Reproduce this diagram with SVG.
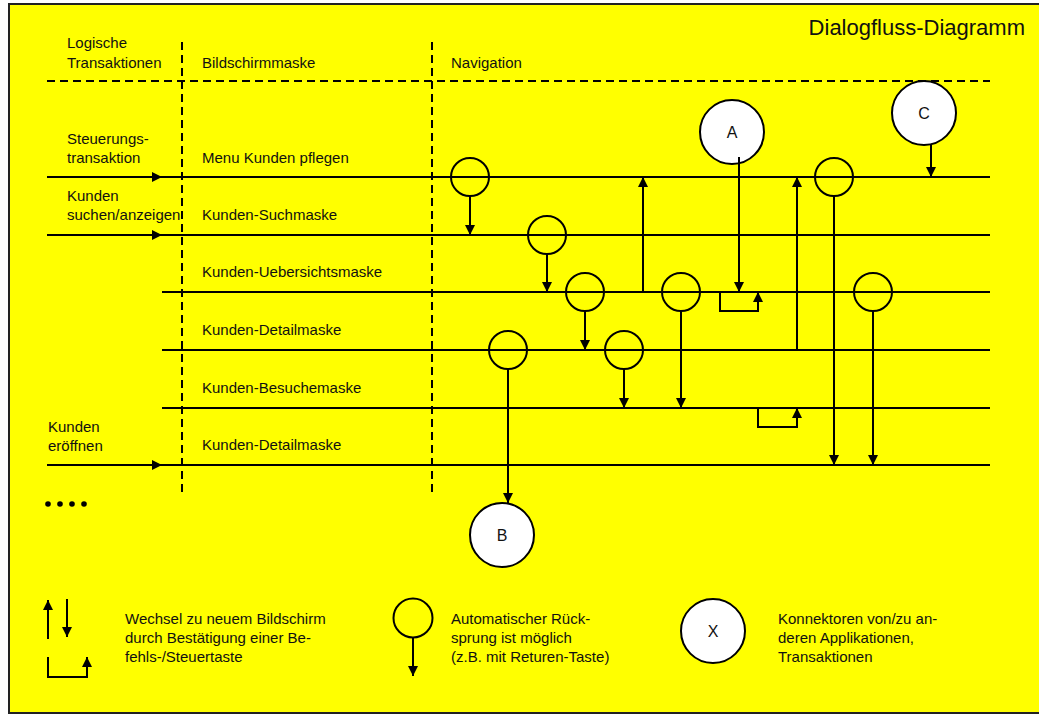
<svg xmlns="http://www.w3.org/2000/svg" width="1039" height="715" viewBox="0 0 1039 715">
<defs>
<marker id="ah" viewBox="0 0 10 10" refX="10" refY="5" markerWidth="10" markerHeight="10" markerUnits="userSpaceOnUse" orient="auto">
<path d="M0,0 L10,5 L0,10 z" fill="#000"/>
</marker>
</defs>
<style>
text{font-family:"Liberation Sans",Arial,sans-serif;font-size:15px;fill:#111}
.t{font-size:22px}
.ln{stroke:#000;stroke-width:2;fill:none}
.ar{stroke:#000;stroke-width:2;fill:none;marker-end:url(#ah)}
.ds{stroke:#000;stroke-width:2;stroke-dasharray:8,5;fill:none}
.sc{stroke:#000;stroke-width:2;fill:none}
.bc{stroke:#000;stroke-width:2;fill:#fff}
.cl{font-size:16px;text-anchor:middle}
</style>
<rect x="0" y="0" width="1039" height="715" fill="#fff"/>
<rect x="9" y="4" width="1040" height="709" fill="#ff0" stroke="#222" stroke-width="2"/>
<text class="t" x="1025" y="35" text-anchor="end">Dialogfluss-Diagramm</text>
<g id="header">
<text x="67" y="48">Logische</text>
<text x="67" y="68">Transaktionen</text>
<text x="202" y="68">Bildschirmmaske</text>
<text x="451" y="68">Navigation</text>
</g>
<g id="grid">
<line class="ds" x1="47" y1="81" x2="990" y2="81"/>
<line class="ds" x1="182" y1="42" x2="182" y2="497"/>
<line class="ds" x1="432" y1="42" x2="432" y2="497"/>
</g>
<g id="labels">
<text x="67" y="144">Steuerungs-</text>
<text x="67" y="163">transaktion</text>
<text x="67" y="201">Kunden</text>
<text x="67" y="220">suchen/anzeigen</text>
<text x="48" y="432">Kunden</text>
<text x="48" y="451">eröffnen</text>
<text x="202" y="163">Menu Kunden pflegen</text>
<text x="202" y="220">Kunden-Suchmaske</text>
<text x="202" y="277">Kunden-Uebersichtsmaske</text>
<text x="202" y="335">Kunden-Detailmaske</text>
<text x="202" y="393">Kunden-Besuchemaske</text>
<text x="202" y="450">Kunden-Detailmaske</text>
<circle cx="48" cy="504" r="2.8" fill="#000"/>
<circle cx="60" cy="504" r="2.8" fill="#000"/>
<circle cx="72" cy="504" r="2.8" fill="#000"/>
<circle cx="84" cy="504" r="2.8" fill="#000"/>
</g>
<g id="connectors">
<line class="ar" x1="47" y1="177" x2="162" y2="177"/>
<line class="ln" x1="162" y1="177" x2="990" y2="177"/>
<line class="ar" x1="47" y1="235" x2="162" y2="235"/>
<line class="ln" x1="162" y1="235" x2="990" y2="235"/>
<line class="ln" x1="162" y1="292" x2="990" y2="292"/>
<line class="ln" x1="162" y1="350" x2="990" y2="350"/>
<line class="ln" x1="162" y1="408" x2="990" y2="408"/>
<line class="ar" x1="47" y1="465" x2="162" y2="465"/>
<line class="ln" x1="162" y1="465" x2="990" y2="465"/>
<line class="ar" x1="470" y1="196" x2="470" y2="235"/>
<line class="ar" x1="547" y1="254" x2="547" y2="292"/>
<line class="ar" x1="585" y1="311" x2="585" y2="350"/>
<line class="ar" x1="681" y1="311" x2="681" y2="408"/>
<line class="ar" x1="624" y1="369" x2="624" y2="408"/>
<line class="ar" x1="508" y1="369" x2="508" y2="503"/>
<line class="ar" x1="834" y1="196" x2="834" y2="465"/>
<line class="ar" x1="873" y1="311" x2="873" y2="465"/>
<line class="ar" x1="643" y1="292" x2="643" y2="177"/>
<line class="ar" x1="797" y1="350" x2="797" y2="177"/>
<line class="ar" x1="739" y1="157" x2="739" y2="292"/>
<line class="ar" x1="931" y1="145" x2="931" y2="177"/>
<polyline class="ar" points="720,292 720,311 758,311 758,292"/>
<polyline class="ar" points="758,408 758,427 797,427 797,408"/>
</g>
<g id="returns">
<circle class="sc" cx="470" cy="177" r="19"/>
<circle class="sc" cx="547" cy="235" r="19"/>
<circle class="sc" cx="585" cy="292" r="19"/>
<circle class="sc" cx="681" cy="292" r="19"/>
<circle class="sc" cx="624" cy="350" r="19"/>
<circle class="sc" cx="508" cy="350" r="19"/>
<circle class="sc" cx="834" cy="177" r="19"/>
<circle class="sc" cx="873" cy="292" r="19"/>
</g>
<g id="nodeA">
<circle class="bc" cx="732" cy="132" r="32"/>
<line class="ln" x1="739" y1="157" x2="739" y2="166"/>
<text class="cl" x="732" y="138">A</text>
</g>
<g id="nodeB">
<circle class="bc" cx="502" cy="535" r="32"/>
<text class="cl" x="502" y="541">B</text>
</g>
<g id="nodeC">
<circle class="bc" cx="924" cy="113" r="32"/>
<text class="cl" x="924" y="119">C</text>
</g>
<g id="legend">
<line class="ar" x1="48" y1="639" x2="48" y2="600"/>
<line class="ar" x1="67" y1="599" x2="67" y2="637"/>
<polyline class="ar" points="48,657 48,677 87,677 87,657"/>
<text x="125" y="624">Wechsel zu neuem Bildschirm</text>
<text x="125" y="643">durch Bestätigung einer Be-</text>
<text x="125" y="662">fehls-/Steuertaste</text>
<circle class="sc" cx="413" cy="618" r="19.5"/>
<line class="ar" x1="413" y1="637" x2="413" y2="676"/>
<text x="451" y="624">Automatischer Rück-</text>
<text x="451" y="643">sprung ist möglich</text>
<text x="451" y="662">(z.B. mit Returen-Taste)</text>
<circle class="bc" cx="713" cy="631" r="32"/>
<text class="cl" x="713" y="637">X</text>
<text x="778" y="624">Konnektoren von/zu an-</text>
<text x="778" y="643">deren Applikationen,</text>
<text x="778" y="662">Transaktionen</text>
</g>
</svg>
